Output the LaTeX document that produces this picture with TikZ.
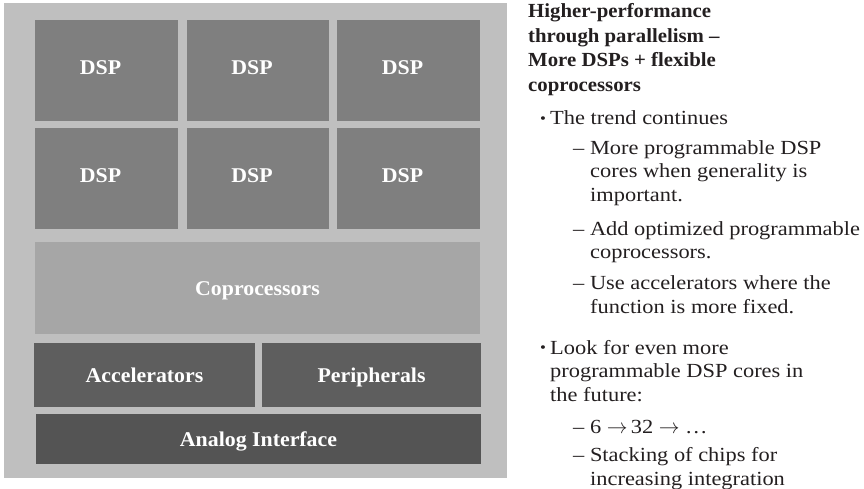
\documentclass[tikz,border=0pt]{standalone}
\usepackage{fontspec}
\setmainfont{Liberation Serif}
\newfontfamily\bodyfont{Liberation Serif}[FakeStretch=1.12]
\newfontfamily\headfont{Liberation Serif}[FakeStretch=1.04]
\definecolor{outergray}{HTML}{BFBFBF}
\definecolor{dspgray}{HTML}{7F7F7F}
\definecolor{copgray}{HTML}{A6A6A6}
\definecolor{accgray}{HTML}{5E5E5E}
\definecolor{anagray}{HTML}{545454}
\definecolor{inkcol}{HTML}{231F20}
\newcommand{\dsplabel}{\hspace*{-12pt}\raisebox{3pt}{DSP}}
\begin{document}
\begin{tikzpicture}[x=1pt,y=-1pt,
  blk/.style={inner sep=0pt, outer sep=0pt, text=white,
    font=\headfont\bfseries\fontsize{21}{21}\selectfont,
    text height=14pt, text depth=0pt},
  dspbox/.style={blk, fill=dspgray, minimum height=101pt},
  txt/.style={inner sep=0pt, anchor=base west,
    font=\bodyfont\fontsize{20}{20}\selectfont, text=inkcol},
  hd/.style={inner sep=0pt, anchor=base west,
    font=\headfont\bfseries\fontsize{20}{20}\selectfont, text=inkcol},
  bul/.style={inner sep=0pt, font=\bodyfont\fontsize{15}{15}\selectfont, text=inkcol}]
\useasboundingbox (0,0) rectangle (864,489);
% chip
\node[inner sep=0pt, fill=outergray, minimum width=503pt, minimum height=475pt] (chip) at (255.5,240.5) {};
% DSP grid
\node[dspbox, minimum width=143pt] (d11) at (106.5,70.5) {\dsplabel};
\node[dspbox, minimum width=142pt] (d12) at (258,70.5) {\dsplabel};
\node[dspbox, minimum width=143pt] (d13) at (408.5,70.5) {\dsplabel};
\node[dspbox, minimum width=143pt] (d21) at (106.5,178.5) {\dsplabel};
\node[dspbox, minimum width=142pt] (d22) at (258,178.5) {\dsplabel};
\node[dspbox, minimum width=143pt] (d23) at (408.5,178.5) {\dsplabel};
% lower blocks
\node[blk, fill=copgray, minimum width=445pt, minimum height=92pt] (cop) at (257.5,288) {Coprocessors};
\node[blk, fill=accgray, minimum width=221pt, minimum height=64pt] (acc) at (144.5,375) {Accelerators};
\node[blk, fill=accgray, minimum width=219pt, minimum height=64pt] (per) at (371.5,375) {Peripherals};
\node[blk, fill=anagray, minimum width=445pt, minimum height=50pt] (ana) at (258.5,439) {Analog Interface};
% heading
\node[hd] (h1) at (528,18) {Higher-performance};
\node[hd] (h2) at (528,42.5) {through parallelism –};
\node[hd] (h3) at (528,67) {More DSPs + flexible};
\node[hd] (h4) at (528,91.5) {coprocessors};
% body
\node[bul] (b1) at (543,120.5) {•};
\node[txt] (l1) at (550,125) {The trend continues};
\node[txt] (l2) at (573,155) {– More programmable DSP};
\node[txt] (l3) at (590,178) {cores when generality is};
\node[txt] (l4) at (590,201) {important.};
\node[txt] (l5) at (573,235) {– Add optimized programmable};
\node[txt] (l6) at (590,258) {coprocessors.};
\node[txt] (l7) at (573,289) {– Use accelerators where the};
\node[txt] (l8) at (590,313) {function is more fixed.};
\node[bul] (b2) at (543,349.5) {•};
\node[txt] (l9) at (550,354) {Look for even more};
\node[txt] (l10) at (550,377) {programmable DSP cores in};
\node[txt] (l11) at (550,401) {the future:};
\node[txt] (l12) at (573,433) {– 6 $\rightarrow$\,32 $\rightarrow$ …};
\node[txt] (l13) at (573,461) {– Stacking of chips for};
\node[txt] (l14) at (590,485) {increasing integration};
\end{tikzpicture}
\end{document}
